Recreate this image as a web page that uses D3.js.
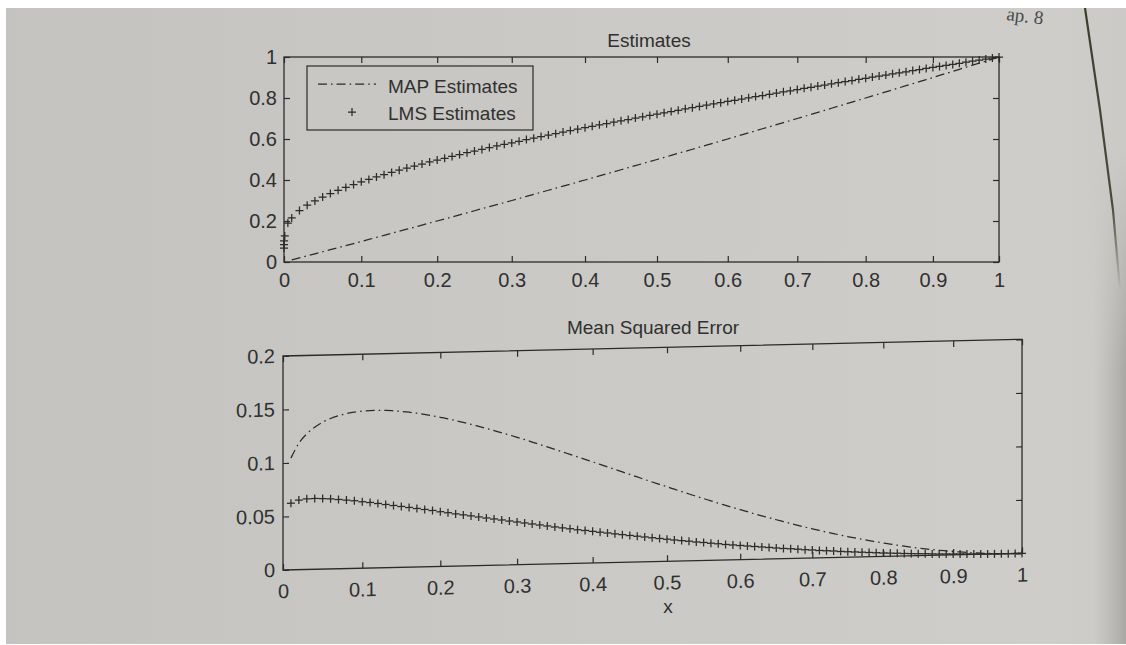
<!DOCTYPE html>
<html>
<head>
<meta charset="utf-8">
<script src="https://cdn.jsdelivr.net/npm/d3@7"></script>
<style>
  html, body { margin: 0; padding: 0; background: #ffffff; }
  svg { display: block; }
  text { font-family: "Liberation Sans", Arial, Helvetica, sans-serif; }
</style>
</head>
<body>
<svg id="chart" width="1126" height="645"></svg>
<script>
// ---------------- data ----------------
const xGrid = [0.01,0.02,0.03,0.04,0.05,0.06,0.07,0.08,0.09,0.10,
  0.11,0.12,0.13,0.14,0.15,0.16,0.17,0.18,0.19,0.20,
  0.21,0.22,0.23,0.24,0.25,0.26,0.27,0.28,0.29,0.30,
  0.31,0.32,0.33,0.34,0.35,0.36,0.37,0.38,0.39,0.40,
  0.41,0.42,0.43,0.44,0.45,0.46,0.47,0.48,0.49,0.50,
  0.51,0.52,0.53,0.54,0.55,0.56,0.57,0.58,0.59,0.60,
  0.61,0.62,0.63,0.64,0.65,0.66,0.67,0.68,0.69,0.70,
  0.71,0.72,0.73,0.74,0.75,0.76,0.77,0.78,0.79,0.80,
  0.81,0.82,0.83,0.84,0.85,0.86,0.87,0.88,0.89,0.90,
  0.91,0.92,0.93,0.94,0.95,0.96,0.97,0.98,0.99,1.00];

const mapEstimates = [0.01,0.02,0.03,0.04,0.05,0.06,0.07,0.08,0.09,0.10,
  0.11,0.12,0.13,0.14,0.15,0.16,0.17,0.18,0.19,0.20,
  0.21,0.22,0.23,0.24,0.25,0.26,0.27,0.28,0.29,0.30,
  0.31,0.32,0.33,0.34,0.35,0.36,0.37,0.38,0.39,0.40,
  0.41,0.42,0.43,0.44,0.45,0.46,0.47,0.48,0.49,0.50,
  0.51,0.52,0.53,0.54,0.55,0.56,0.57,0.58,0.59,0.60,
  0.61,0.62,0.63,0.64,0.65,0.66,0.67,0.68,0.69,0.70,
  0.71,0.72,0.73,0.74,0.75,0.76,0.77,0.78,0.79,0.80,
  0.81,0.82,0.83,0.84,0.85,0.86,0.87,0.88,0.89,0.90,
  0.91,0.92,0.93,0.94,0.95,0.96,0.97,0.98,0.99,1.00];

const lmsEstimates = [0.215,0.251,0.277,0.298,0.317,0.334,0.350,0.364,0.378,0.391,
  0.403,0.415,0.426,0.437,0.448,0.458,0.468,0.478,0.488,0.497,
  0.506,0.515,0.524,0.533,0.541,0.549,0.558,0.566,0.574,0.581,
  0.589,0.597,0.604,0.612,0.619,0.626,0.634,0.641,0.648,0.655,
  0.662,0.669,0.675,0.682,0.689,0.695,0.702,0.708,0.715,0.721,
  0.728,0.734,0.740,0.747,0.753,0.759,0.765,0.771,0.777,0.783,
  0.789,0.795,0.801,0.807,0.812,0.818,0.824,0.830,0.835,0.841,
  0.847,0.852,0.858,0.863,0.869,0.875,0.880,0.885,0.891,0.896,
  0.902,0.907,0.912,0.918,0.923,0.928,0.934,0.939,0.944,0.949,
  0.954,0.959,0.964,0.969,0.975,0.980,0.985,0.990,0.995,1.000];

// LMS estimates for observations very close to zero (stacked at the y axis)
const lmsNearZeroX = [0.000001, 0.00001, 0.0001, 0.001, 0.005];
const lmsNearZeroY = [0.068, 0.085, 0.103, 0.127, 0.190];

const mapMSE = [0.1044,0.1181,0.1268,0.1328,0.1373,0.1406,0.1430,0.1448,0.1461,0.1468,
  0.1472,0.1472,0.1470,0.1464,0.1457,0.1448,0.1437,0.1424,0.1410,0.1394,
  0.1378,0.1360,0.1341,0.1322,0.1301,0.1280,0.1259,0.1236,0.1214,0.1191,
  0.1168,0.1143,0.1119,0.1095,0.1070,0.1046,0.1020,0.0995,0.0970,0.0945,
  0.0920,0.0895,0.0870,0.0845,0.0820,0.0795,0.0770,0.0745,0.0721,0.0697,
  0.0673,0.0649,0.0625,0.0602,0.0579,0.0556,0.0533,0.0511,0.0489,0.0468,
  0.0447,0.0426,0.0405,0.0386,0.0366,0.0347,0.0328,0.0309,0.0291,0.0274,
  0.0257,0.0240,0.0224,0.0209,0.0194,0.0179,0.0165,0.0152,0.0138,0.0126,
  0.0114,0.0103,0.0092,0.0082,0.0072,0.0063,0.0054,0.0046,0.0039,0.0032,
  0.0026,0.0020,0.0015,0.0011,0.0007,0.0004,0.0002,0.0001,0.0000,0.0000];

const lmsMSE = [0.0623,0.0650,0.0660,0.0662,0.0659,0.0655,0.0648,0.0640,0.0632,0.0622,
  0.0612,0.0602,0.0591,0.0580,0.0568,0.0557,0.0546,0.0535,0.0524,0.0511,
  0.0500,0.0488,0.0477,0.0466,0.0455,0.0443,0.0432,0.0421,0.0410,0.0399,
  0.0389,0.0377,0.0367,0.0356,0.0345,0.0335,0.0325,0.0315,0.0306,0.0296,
  0.0286,0.0277,0.0268,0.0259,0.0250,0.0241,0.0232,0.0223,0.0215,0.0207,
  0.0198,0.0191,0.0183,0.0175,0.0168,0.0160,0.0153,0.0146,0.0139,0.0133,
  0.0126,0.0120,0.0114,0.0108,0.0102,0.0096,0.0091,0.0085,0.0080,0.0075,
  0.0070,0.0065,0.0061,0.0056,0.0052,0.0048,0.0044,0.0040,0.0037,0.0033,
  0.0030,0.0027,0.0024,0.0021,0.0019,0.0016,0.0014,0.0012,0.0010,0.0008,
  0.0007,0.0005,0.0004,0.0003,0.0002,0.0001,0.0001,0.0000,0.0000,0.0000];

const xTicks = [0,0.1,0.2,0.3,0.4,0.5,0.6,0.7,0.8,0.9,1];
const yTicksTop = [0,0.2,0.4,0.6,0.8,1];
const yTicksBottom = [0,0.05,0.1,0.15,0.2];

const titleTop = "Estimates";
const titleBottom = "Mean Squared Error";
const xLabel = "x";
const legendLabels = ["MAP Estimates", "LMS Estimates"];

// ---------------- styling ----------------
const INK = "#2b2b2b";
const TEXT = "#303030";
const PAPER = "#c8c7c3";
const DASHDOT = "9,4,1.6,4";
const FS = 19;
const FS_TICK = 20;
const fmt = d3.format("~g");

const svg = d3.select("#chart");

// paper background (photo of a book page)
const defs = svg.append("defs");
const g1 = defs.append("linearGradient").attr("id", "paper").attr("x1", 0).attr("x2", 1).attr("y1", 0).attr("y2", 0);
g1.append("stop").attr("offset", 0).attr("stop-color", "#c4c3bf");
g1.append("stop").attr("offset", 0.5).attr("stop-color", "#cac9c5");
g1.append("stop").attr("offset", 0.93).attr("stop-color", "#cecdca");
g1.append("stop").attr("offset", 1).attr("stop-color", "#cbcac7");
const g2 = defs.append("linearGradient").attr("id", "shadow").attr("x1", 0).attr("x2", 1).attr("y1", 0).attr("y2", 0);
g2.append("stop").attr("offset", 0).attr("stop-color", "#b5b4b1").attr("stop-opacity", 0);
g2.append("stop").attr("offset", 1).attr("stop-color", "#a6a5a2").attr("stop-opacity", 0.95);
const g3 = defs.append("linearGradient").attr("id", "fadeV").attr("x1", 0).attr("x2", 0).attr("y1", 0).attr("y2", 1);
g3.append("stop").attr("offset", 0).attr("stop-color", "#fff").attr("stop-opacity", 0);
g3.append("stop").attr("offset", 0.45).attr("stop-color", "#fff").attr("stop-opacity", 1);
g3.append("stop").attr("offset", 1).attr("stop-color", "#fff").attr("stop-opacity", 1);
defs.append("mask").attr("id", "fadeMask")
  .append("rect").attr("x", 1080).attr("y", 150).attr("width", 46).attr("height", 495).attr("fill", "url(#fadeV)");
const g4 = defs.append("linearGradient").attr("id", "lineFade").attr("x1", 0).attr("x2", 0).attr("y1", 0).attr("y2", 1);
g4.append("stop").attr("offset", 0).attr("stop-color", "#3a3f2c").attr("stop-opacity", 1);
g4.append("stop").attr("offset", 0.7).attr("stop-color", "#3a3f2c").attr("stop-opacity", 0.9);
g4.append("stop").attr("offset", 1).attr("stop-color", "#3a3f2c").attr("stop-opacity", 0);

svg.append("rect").attr("width", 1126).attr("height", 645).attr("fill", "#ffffff");
svg.append("rect").attr("x", 6).attr("y", 8).attr("width", 1120).attr("height", 636).attr("fill", "url(#paper)");
svg.append("rect").attr("x", 1094).attr("y", 150).attr("width", 32).attr("height", 494)
  .attr("fill", "url(#shadow)").attr("mask", "url(#fadeMask)");
svg.append("path").attr("d", "M1085,8 L1100,110 L1113,210 L1120,290")
  .attr("fill", "none").attr("stroke", "url(#lineFade)").attr("stroke-width", 2.2);
svg.append("text").attr("x", 1006).attr("y", 20).attr("transform", "rotate(7,1006,20)")
  .attr("font-size", 19).attr("fill", "#4a4a4a")
  .style("font-family", "'Liberation Serif', 'DejaVu Serif', serif").text("ap. 8");
svg.append("rect").attr("x", 990).attr("y", 0).attr("width", 136).attr("height", 8).attr("fill", "#ffffff");

const plus = "M-4,0H4M0,-4V4";

// Photographed page: the horizontal axis is slightly foreshortened to the right.
// The tick positions follow a projective mapping; everything is placed through these scales.
function perspectiveScale(x0, K, c) {
  return d3.scaleLinear().domain(xTicks).range(xTicks.map(t => x0 + K * t / (1 + c * t)));
}

function drawPanel(g, xs, ys, yTicks, opt) {
  const x0 = xs(0), x1 = xs(1);
  const [y0, y1] = ys.range();
  const bottom = g.append("g").attr("transform", `translate(0,${y0})`)
    .call(d3.axisBottom(xs).tickValues(xTicks).tickSize(-6).tickSizeOuter(0).tickPadding(opt.xPad).tickFormat(fmt));
  const top = g.append("g").attr("transform", `translate(0,${y1})`)
    .call(d3.axisTop(xs).tickValues(xTicks).tickSize(-6).tickSizeOuter(0).tickFormat(""));
  const left = g.append("g").attr("transform", `translate(${x0},0)`)
    .call(d3.axisLeft(ys).tickValues(yTicks).tickSize(-6).tickSizeOuter(0).tickPadding(opt.yPad).tickFormat(fmt));
  const right = g.append("g").attr("transform", `translate(${x1},0)`)
    .call(d3.axisRight(ys).tickValues(yTicks).tickSize(-6).tickSizeOuter(0).tickFormat(""));
  [bottom, top, left, right].forEach(a => {
    a.select(".domain").remove();
    a.selectAll("line").attr("stroke", INK).attr("stroke-width", 1.2);
    a.selectAll("text").attr("fill", TEXT).attr("font-size", FS_TICK)
      .style("font-family", "'Liberation Sans', Arial, sans-serif");
  });
  g.append("rect").attr("x", x0).attr("y", y1).attr("width", x1 - x0).attr("height", y0 - y1)
    .attr("fill", "none").attr("stroke", INK).attr("stroke-width", 1.3);
}

// ---------------- top panel: Estimates ----------------
const xTop = perspectiveScale(284, 779.8, 0.0906);
const yTop = d3.scaleLinear().domain([0, 1]).range([262, 57]);
const gTop = svg.append("g");
drawPanel(gTop, xTop, yTop, yTicksTop, { xPad: 11, yPad: 7 });

gTop.append("path")
  .datum(xGrid.map((x, i) => [x, mapEstimates[i]]))
  .attr("d", d3.line().x(d => xTop(d[0])).y(d => yTop(d[1])))
  .attr("fill", "none").attr("stroke", INK).attr("stroke-width", 1.25).attr("stroke-dasharray", DASHDOT);

const lmsTopPts = lmsNearZeroX.map((x, i) => [x, lmsNearZeroY[i]])
  .concat(xGrid.map((x, i) => [x, lmsEstimates[i]]));
gTop.append("g").selectAll("path").data(lmsTopPts).join("path")
  .attr("d", plus).attr("transform", d => `translate(${xTop(d[0])},${yTop(d[1])})`)
  .attr("fill", "none").attr("stroke", INK).attr("stroke-width", 1.25);

svg.append("text").attr("x", 649).attr("y", 47).attr("text-anchor", "middle")
  .attr("font-size", FS).attr("fill", TEXT).text(titleTop);

// legend
const lg = svg.append("g");
lg.append("rect").attr("x", 307).attr("y", 66).attr("width", 226).attr("height", 64)
  .attr("fill", PAPER).attr("stroke", INK).attr("stroke-width", 1.2);
lg.append("line").attr("x1", 318).attr("x2", 376).attr("y1", 84).attr("y2", 84)
  .attr("stroke", INK).attr("stroke-width", 1.25).attr("stroke-dasharray", DASHDOT);
lg.append("path").attr("d", plus).attr("transform", "translate(352,112)")
  .attr("fill", "none").attr("stroke", INK).attr("stroke-width", 1.25);
lg.append("text").attr("x", 388).attr("y", 93).attr("font-size", FS).attr("fill", TEXT).text(legendLabels[0]);
lg.append("text").attr("x", 388).attr("y", 120).attr("font-size", FS).attr("fill", TEXT).text(legendLabels[1]);

// ---------------- bottom panel: Mean Squared Error ----------------
const xBot = perspectiveScale(283, 799.4, 0.0817);
const yBot = d3.scaleLinear().domain([0, 0.2]).range([570, 356]);
// slight tilt, as in the photographed page
const gBot = svg.append("g").attr("transform", `matrix(1,-0.0225,0,1,0,${(283 * 0.0225).toFixed(3)})`);
drawPanel(gBot, xBot, yBot, yTicksBottom, { xPad: 14, yPad: 8 });

gBot.append("path")
  .datum(xGrid.map((x, i) => [x, mapMSE[i]]))
  .attr("d", d3.line().x(d => xBot(d[0])).y(d => yBot(d[1])).curve(d3.curveMonotoneX))
  .attr("fill", "none").attr("stroke", INK).attr("stroke-width", 1.25).attr("stroke-dasharray", DASHDOT);

gBot.append("g").selectAll("path").data(xGrid.map((x, i) => [x, lmsMSE[i]])).join("path")
  .attr("d", plus).attr("transform", d => `translate(${xBot(d[0])},${yBot(d[1])})`)
  .attr("fill", "none").attr("stroke", INK).attr("stroke-width", 1.25);

svg.append("text").attr("x", 653).attr("y", 334).attr("text-anchor", "middle")
  .attr("font-size", FS).attr("fill", TEXT).text(titleBottom);
svg.append("text").attr("x", 668).attr("y", 613).attr("text-anchor", "middle")
  .attr("font-size", FS).attr("fill", TEXT).text(xLabel);
</script>
</body>
</html>
